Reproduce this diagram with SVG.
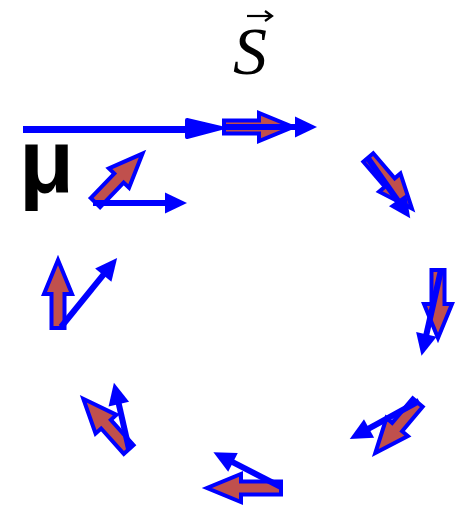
<svg xmlns="http://www.w3.org/2000/svg" width="462" height="507" viewBox="0 0 462 507">
<style>
.spin{fill:#C0504D;stroke:#0000FF;stroke-width:4;stroke-linejoin:miter}
.bl{stroke:#0000FF;stroke-width:6;fill:none}
.bh{fill:#0000FF}
.lbl{fill:#000}
</style>
<rect width="462" height="507" fill="#fff"/>
<g id="label-S">
<text class="lbl" x="233" y="74" font-family="Liberation Serif, serif" font-style="italic" font-size="68">S</text>
<line x1="247" y1="16" x2="271" y2="16" stroke="#000" stroke-width="2.2"/>
<polyline points="265,11 272,16 265,21" fill="none" stroke="#000" stroke-width="2.2"/>
</g>
<g id="label-mu">
<text class="lbl" x="19" y="192" font-family="Liberation Sans, Arial, sans-serif" font-weight="bold" font-size="90">μ</text>
</g>
<g id="mu-axis">
<line x1="23" y1="129.5" x2="188" y2="129.5" stroke="#0000FF" stroke-width="7"/>
<polygon points="187,120 221,128 187,137" fill="#0000FF" stroke="#0000FF" stroke-width="4" stroke-linejoin="round"/>
</g>
<g id="spin-top">
<path class="spin" transform="translate(222,127) rotate(0) translate(2,0)" d="M0,-6.5H35V-14L69,0L35,14V6.5H0Z"/>
</g>
<g id="spin-topright">
<path class="spin" transform="translate(367,156) rotate(49.4) translate(2,0)" d="M0,-6.5H33V-14L67,0L33,14V6.5H0Z"/>
</g>
<g id="spin-right">
<path class="spin" transform="translate(438,268) rotate(90) translate(2,0)" d="M0,-6.5H34V-14L68,0L34,14V6.5H0Z"/>
</g>
<g id="spin-bottomright">
<path class="spin" transform="translate(419,401) rotate(130) translate(2,0)" d="M0,-6.5H32V-14L66,0L32,14V6.5H0Z"/>
</g>
<g id="spin-bottom">
<path class="spin" transform="translate(283,488) rotate(180) translate(2,0)" d="M0,-6.5H40V-14L74,0L40,14V6.5H0Z"/>
</g>
<g id="spin-bottomleft">
<path class="spin" transform="translate(130,451) rotate(228.2) translate(2,0)" d="M0,-6.5H34V-14L68,0L34,14V6.5H0Z"/>
</g>
<g id="spin-left">
<path class="spin" transform="translate(58,330) rotate(-90) translate(2,0)" d="M0,-6.5H34V-14L68,0L34,14V6.5H0Z"/>
</g>
<g id="spin-topleft">
<path class="spin" transform="translate(94,204) rotate(-46.1) translate(2,0)" d="M0,-6.5H34V-14L68,0L34,14V6.5H0Z"/>
</g>
<g id="connectors">
<g transform="translate(222,127) rotate(0)"><line class="bl" x1="0" y1="0" x2="75" y2="0"/><polygon class="bh" points="73,-10.5 95,0 73,10.5"/></g>
<g transform="translate(367,157) rotate(54.8)"><line class="bl" x1="0" y1="0" x2="55" y2="0"/><polygon class="bh" points="53,-10.5 75,0 53,10.5"/></g>
<g transform="translate(441,270) rotate(102.8)"><line class="bl" x1="0" y1="0" x2="68" y2="0"/><polygon class="bh" points="66,-10.5 88,0 66,10.5"/></g>
<g transform="translate(419,401) rotate(151.2)"><line class="bl" x1="0" y1="0" x2="59" y2="0"/><polygon class="bh" points="57,-10.5 79,0 57,10.5"/></g>
<g transform="translate(281,487) rotate(207.2)"><line class="bl" x1="0" y1="0" x2="56" y2="0"/><polygon class="bh" points="54,-10.5 76,0 54,10.5"/></g>
<g transform="translate(129,449) rotate(-102.8)"><line class="bl" x1="0" y1="0" x2="48" y2="0"/><polygon class="bh" points="46,-10.5 68,0 46,10.5"/></g>
<g transform="translate(61,327) rotate(-50.9)"><line class="bl" x1="0" y1="0" x2="69" y2="0"/><polygon class="bh" points="67,-10.5 89,0 67,10.5"/></g>
<g transform="translate(93,203) rotate(0)"><line class="bl" x1="0" y1="0" x2="74" y2="0"/><polygon class="bh" points="72,-10.5 94,0 72,10.5"/></g>
</g>
</svg>
